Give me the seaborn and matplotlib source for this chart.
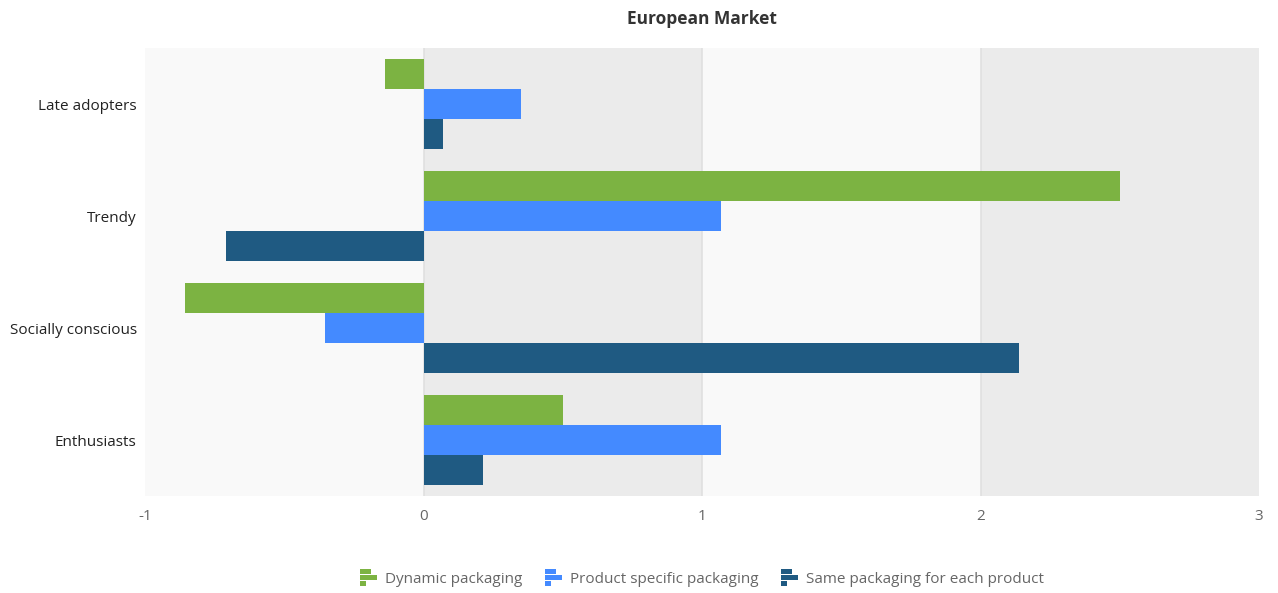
import matplotlib
matplotlib.use("Agg")
import matplotlib.pyplot as plt
import seaborn as sns
import pandas as pd
from matplotlib.patches import Patch, Rectangle
from matplotlib.legend_handler import HandlerBase

categories = ["Late adopters", "Trendy", "Socially conscious", "Enthusiasts"]
series_names = ["Dynamic packaging", "Product specific packaging", "Same packaging for each product"]
dynamic = [-0.14, 2.50, -0.855, 0.50]
product_specific = [0.35, 1.07, -0.355, 1.07]
same = [0.07, -0.71, 2.14, 0.215]
colors = ["#7cb342", "#448aff", "#1f5a82"]
x_ticks = [-1, 0, 1, 2, 3]

rows = []
for name, vals in zip(series_names, [dynamic, product_specific, same]):
    for c, v in zip(categories, vals):
        rows.append({"category": c, "series": name, "value": v})
df = pd.DataFrame(rows)

sns.set_theme(style="white")
plt.rcParams["font.family"] = ["Open Sans", "DejaVu Sans"]

fig = plt.figure(figsize=(12.78, 5.93), dpi=100)
ax = fig.add_axes([145/1278, 1-496/593, (1259-145)/1278, (496-48)/593])

band_colors = ["#f9f9f9", "#ebebeb", "#f9f9f9", "#ebebeb"]
for i in range(len(x_ticks)-1):
    ax.axvspan(x_ticks[i], x_ticks[i+1], color=band_colors[i], zorder=0, lw=0)
for t in x_ticks[1:-1]:
    ax.axvline(t, color="#e0e0e0", lw=1.2, zorder=0.5)

sns.barplot(data=df, y="category", x="value", hue="series", order=categories,
            hue_order=series_names, palette=colors, orient="h", width=0.8,
            saturation=1, ax=ax, legend=False, zorder=2, linewidth=0, edgecolor="none")

ax.set_xlim(-1, 3)
ax.set_xticks(x_ticks)
ax.set_xticklabels([str(t) for t in x_ticks], color="#666666", fontsize=11)
ax.tick_params(axis="y", labelsize=11, labelcolor="#222222", length=0, pad=6)
ax.tick_params(axis="x", length=0, pad=9)
ax.set_xlabel("")
ax.set_ylabel("")
for s in ax.spines.values():
    s.set_visible(False)

cx = (145 + 1259) / 2 / 1278
fig.text(cx, 1-19/593, "European Market", ha="center", va="center",
         fontsize=12.5, fontweight="bold", color="#333333")


class BarIconHandler(HandlerBase):
    def create_artists(self, legend, orig_handle, xdescent, ydescent, width, height, fontsize, trans):
        c = orig_handle.get_facecolor()
        total = height * 1.3
        h = total / 3.4
        gap = (total - 3 * h) / 2
        y0 = -ydescent - height * 0.15
        lens = [0.65, 1.0, 0.35]
        arts = []
        for k, L in enumerate(lens):
            y = y0 + total - (k + 1) * h - k * gap
            r = Rectangle((-xdescent, y), width * L, h, facecolor=c, edgecolor="none", transform=trans)
            arts.append(r)
        return arts


handles = [Patch(facecolor=c, edgecolor="none") for c in colors]
fig.legend(handles, series_names, loc="center", bbox_to_anchor=(cx, 1-579/593),
           ncol=3, frameon=False, fontsize=11, labelcolor="#666666",
           handlelength=1.1, handleheight=0.9, handletextpad=0.5, columnspacing=1.5,
           handler_map={Patch: BarIconHandler()})

fig.savefig("out.png", dpi=100)
